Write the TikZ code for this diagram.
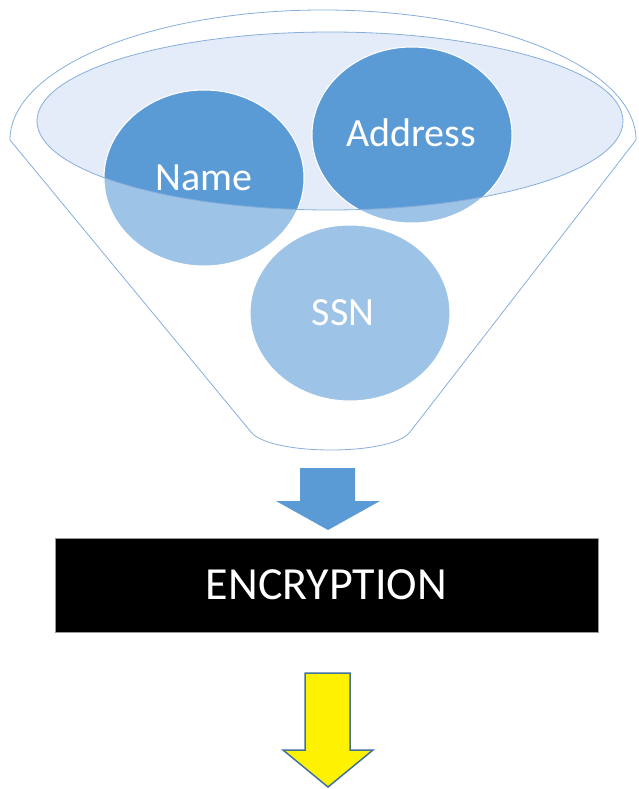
\documentclass[tikz,border=0pt]{standalone}
\usepackage{fontspec}
\setmainfont{Carlito}
\usetikzlibrary{shapes.geometric}

\definecolor{darkblue}{HTML}{5B9BD5}
\definecolor{lightblue}{HTML}{9DC3E6}
\definecolor{rimfill}{HTML}{E3ECF8}
\definecolor{rimline}{HTML}{86AEDC}
\definecolor{arrowline}{HTML}{41719C}

\begin{document}
\begin{tikzpicture}[x=1pt,y=-1pt,
    bubbletext/.style={text=white,font=\fontsize{40}{44}\selectfont},
    bubble/.style={x radius=100,y radius=88}]
            \useasboundingbox (0,0) rectangle (639,789);

            \coordinate (rim) at (330,121);
            \coordinate (name) at (204,178);
            \coordinate (addr) at (412,135);
            \coordinate (ssn) at (350,313);

            % funnel body
            \draw[rimline,line width=0.8pt] (10,140) arc[start angle=180,end angle=360,x radius=313,y radius=130]
                -- (410,432) .. controls (392,456) and (270,456) .. (251,432) -- cycle;
            \fill[rimfill] (rim) ellipse [x radius=293,y radius=89];

            % bubbles
            \foreach \c in {name,addr,ssn}
                \filldraw[lightblue,draw=white,line width=1pt] (\c) ellipse [bubble];
            \begin{scope}
                \clip (rim) ellipse [x radius=293,y radius=89];
                \foreach \c in {name,addr}
                    \filldraw[darkblue,draw=white,line width=1pt] (\c) ellipse [bubble];
            \end{scope}
            \draw[rimline,line width=0.8pt] (rim) ellipse [x radius=293,y radius=89];

            \node[bubbletext] (nametxt) at (name) {Name};
            \node[bubbletext] (addrtxt) at (411,133) {Address};
            \node[bubbletext] (ssntxt) at (343,313) {SSN};

            % arrows and box
            \fill[darkblue] (300,468) -- (355,468) -- (355,501) -- (380,501) -- (328,530)
                -- (276,501) -- (300,501) -- cycle;
            \node[fill=black,draw=black!40,line width=0.6pt,minimum width=543pt,minimum height=94pt,
                text=white,font=\fontsize{46}{50}\selectfont] (enc) at (326.5,585) {ENCRYPTION};
            \draw[arrowline,fill=yellow,line width=1.5pt,line join=miter] (305,673) -- (350,673) -- (350,750)
                -- (373,750) -- (328,787) -- (283,750) -- (305,750) -- cycle;
\end{tikzpicture}
\end{document}
